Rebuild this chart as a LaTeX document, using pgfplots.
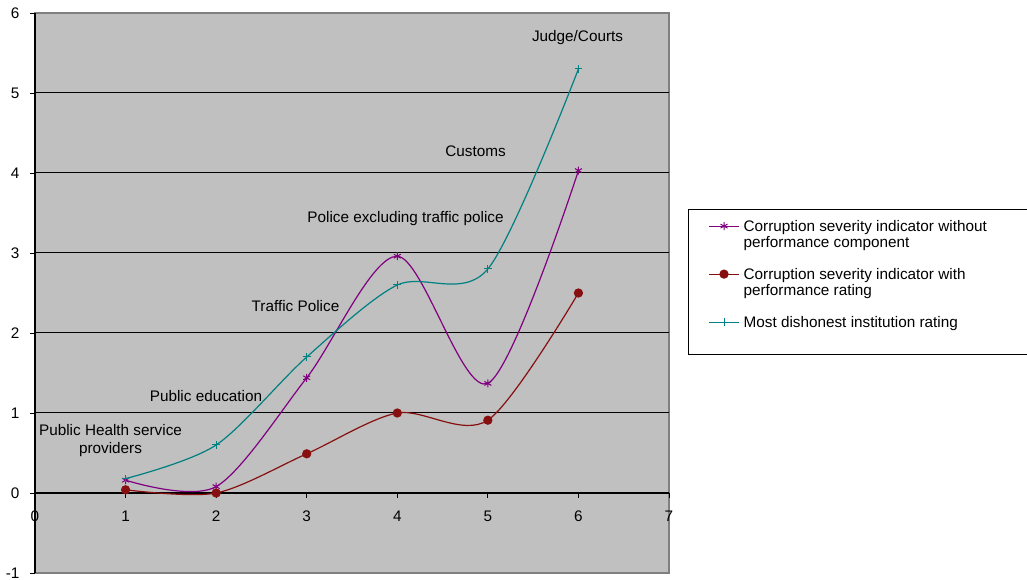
\documentclass[border=0pt]{standalone}
\usepackage{pgfplots}
\pgfplotsset{compat=1.18}
\usepackage{fontspec}
\setmainfont{Liberation Sans}
\definecolor{cpurple}{RGB}{128,0,128}
\definecolor{cred}{RGB}{135,15,15}
\definecolor{cteal}{RGB}{0,128,128}
\definecolor{bggray}{RGB}{192,192,192}
\definecolor{bordergray}{RGB}{128,128,128}
\newcommand{\cfont}{\fontsize{15.3bp}{16bp}\selectfont}
\newcommand{\afont}{\fontsize{15.3bp}{18bp}\selectfont}
\begin{document}
\begin{tikzpicture}
\path[use as bounding box] (0,0) rectangle (1027bp,580bp);
\begin{axis}[
  at={(35bp,7bp)}, anchor=south west,
  scale only axis, width=634bp, height=560bp,
  xmin=0, xmax=7, ymin=-1, ymax=6,
  axis x line*=middle, axis y line*=left,
  hide obscured x ticks=false, hide obscured y ticks=false,
  xtick={0,...,7}, ytick={-1,...,6},
  tick align=outside, major tick length=5bp,
  tick style={black, line width=0.8bp},
  axis line style={black, line width=1.2bp},
  axis background/.style={fill=bggray, draw=bordergray, line width=1.2bp},
  extra y ticks={1,2,3,4,5}, extra y tick labels={},
  extra y tick style={grid=major, major tick length=0pt},
  major grid style={black, line width=1bp},
  /pgf/number format/assume math mode=true,
  ticklabel style={font=\cfont},
  xticklabel style={yshift=-9bp},
  yticklabel style={xshift=-7bp},
  legend style={at={(1.030,0.65)}, anchor=north west, draw=black, line width=0.8bp, fill=white,
    font=\cfont, inner xsep=20bp, inner ysep=10.5bp, row sep=16bp, column sep=4bp,
    nodes={inner sep=0pt, text depth=}, cells={anchor=base west}},
  legend image code/.code={\draw[mark repeat=2,mark phase=2] plot coordinates {(0bp,5bp) (15bp,5bp) (30bp,5bp)};},
]
\addplot[cpurple, line width=1.2bp, smooth, mark=asterisk, mark size=4bp, mark options={solid, line width=1bp}]
  coordinates {(1,0.16)(2,0.08)(3,1.44)(4,2.96)(5,1.37)(6,4.03)};
\addlegendentry{\begin{tabular}[t]{@{}p{290bp}@{}}Corruption severity indicator without\\performance component\end{tabular}}
\addplot[cred, line width=1.2bp, smooth, mark=*, mark size=4bp, mark options={solid}]
  coordinates {(1,0.04)(2,0.0)(3,0.49)(4,1.0)(5,0.91)(6,2.5)};
\addlegendentry{\begin{tabular}[t]{@{}p{290bp}@{}}Corruption severity indicator with\\performance rating\end{tabular}}
\addplot[cteal, line width=1.2bp, smooth, mark=+, mark size=3.8bp, mark options={solid, line width=1bp}]
  coordinates {(1,0.18)(2,0.6)(3,1.7)(4,2.6)(5,2.8)(6,5.3)};
\addlegendentry{\begin{tabular}[t]{@{}p{290bp}@{}}Most dishonest institution rating\rule[-16.5bp]{0pt}{0pt}\end{tabular}}
\node[font=\afont] at (axis cs:5.99,5.69) {Judge/Courts};
\node[font=\afont] at (axis cs:4.864,4.275) {Customs};
\node[font=\afont] at (axis cs:4.091,3.425) {Police excluding traffic police};
\node[font=\afont] at (axis cs:2.876,2.34) {Traffic Police};
\node[font=\afont] at (axis cs:1.888,1.2125) {Public education};
\node[font=\afont, align=center] at (axis cs:0.834,0.65) {Public Health service\\providers};
\end{axis}
\end{tikzpicture}
\end{document}
